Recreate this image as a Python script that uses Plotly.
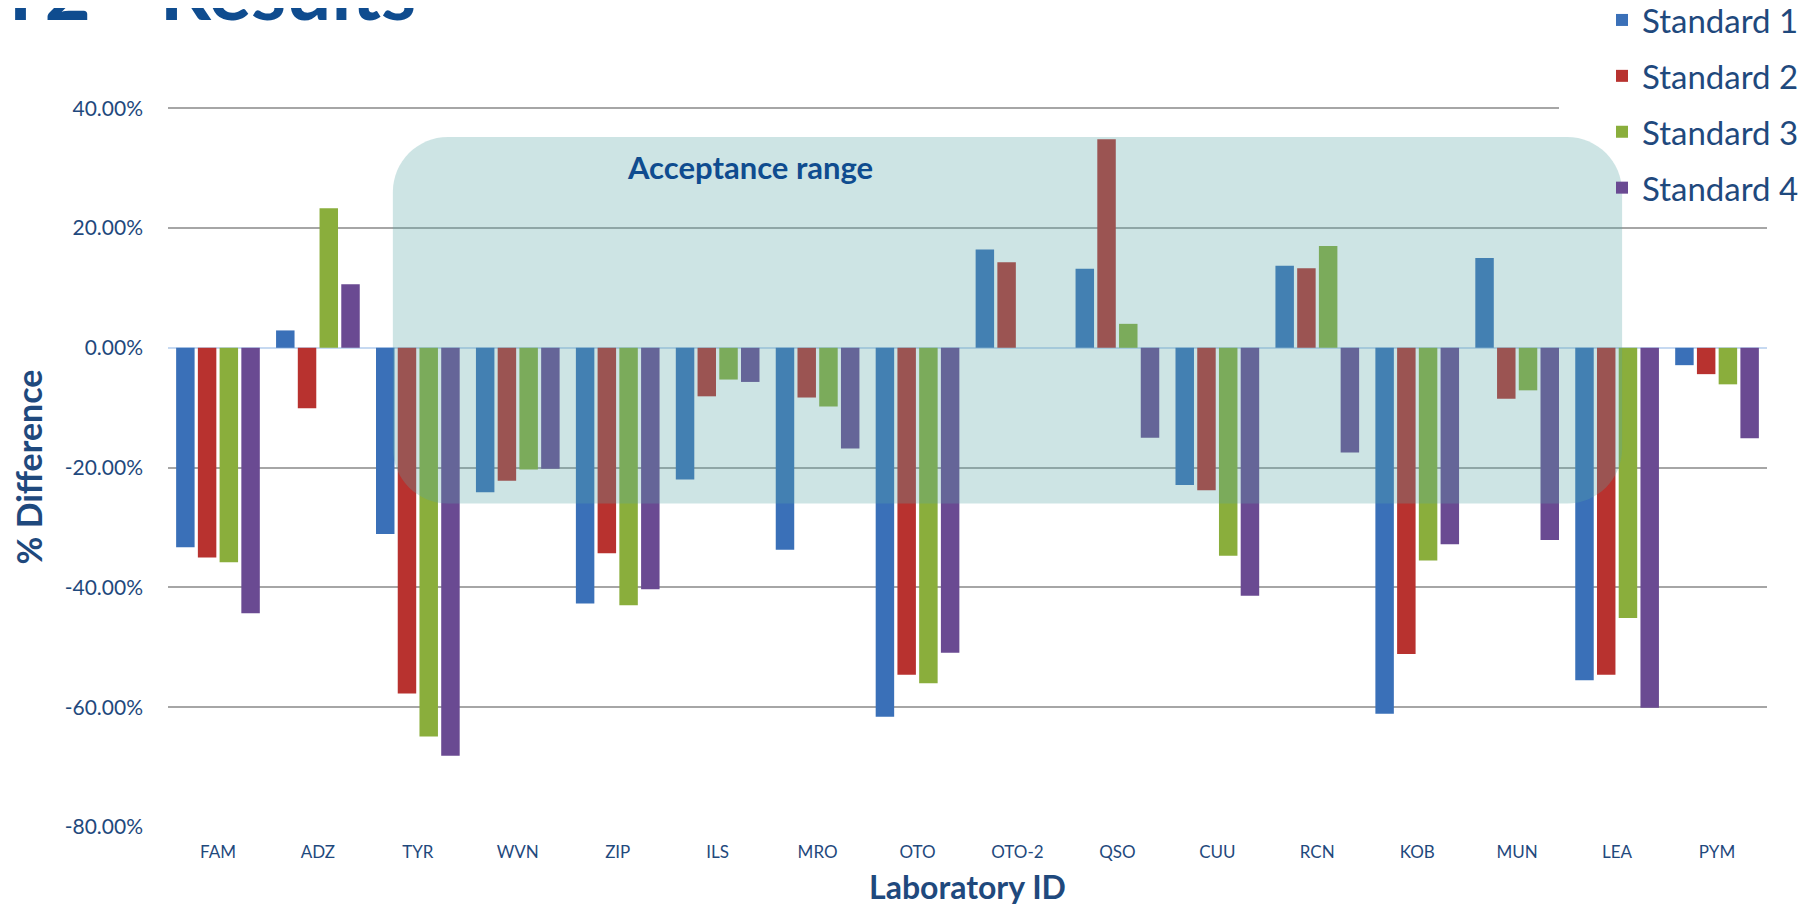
import plotly.graph_objects as go

# Laboratory IDs on the x axis
labs = ["FAM", "ADZ", "TYR", "WVN", "ZIP", "ILS", "MRO", "OTO",
        "OTO-2", "QSO", "CUU", "RCN", "KOB", "MUN", "LEA", "PYM"]

# % difference per standard (fractions)
standard_1 = [-0.333, 0.029, -0.311, -0.241, -0.427, -0.220, -0.337, -0.616,
              0.164, 0.132, -0.229, 0.137, -0.611, 0.150, -0.555, -0.029]
standard_2 = [-0.350, -0.101, -0.577, -0.222, -0.343, -0.081, -0.083, -0.546,
              0.143, 0.348, -0.238, 0.133, -0.511, -0.085, -0.546, -0.044]
standard_3 = [-0.358, 0.233, -0.649, -0.203, -0.430, -0.053, -0.098, -0.560,
              None, 0.040, -0.347, 0.170, -0.355, -0.071, -0.451, -0.061]
standard_4 = [-0.443, 0.106, -0.681, -0.202, -0.403, -0.057, -0.168, -0.509,
              None, -0.150, -0.414, -0.175, -0.328, -0.321, -0.601, -0.151]

series_names = ["Standard 1", "Standard 2", "Standard 3", "Standard 4"]
series_values = [standard_1, standard_2, standard_3, standard_4]
series_colors = ["#3A70B8", "#B8322F", "#8AAE3C", "#6A4A92"]

y_ticks = [0.4, 0.2, 0.0, -0.2, -0.4, -0.6, -0.8]
y_tick_text = [f"{v:.2%}" for v in y_ticks]

# acceptance band: y limits (fractions) and x limits (category positions)
ACCEPT_LOW, ACCEPT_HIGH = -0.260, 0.352
ACCEPT_X0, ACCEPT_X1 = 1.75, 14.05

TEXT_BLUE = "#1F497D"
TITLE_BLUE = "#0F4C8F"
FONT = "Lato"

# the page body adds 8px around the figure
W, H = 1797, 898
M_L, M_R, M_T, M_B = 160, 38, 99, 79
PLOT_W = W - M_L - M_R
PLOT_H = H - M_T - M_B
Y_RANGE = (-0.8, 0.402)

fig = go.Figure()
for i, (name, vals, col) in enumerate(zip(series_names, series_values, series_colors)):
    fig.add_trace(go.Bar(
        x=labs, y=vals, name=name, legendgroup=f"g{i}",
        marker=dict(color=col, line=dict(width=0)),
    ))

# rounded rectangle for the acceptance range (x in paper units, y in data units)
n = len(labs)
x0 = (ACCEPT_X0 + 0.5) / n
x1 = (ACCEPT_X1 + 0.5) / n
y0, y1 = ACCEPT_LOW, ACCEPT_HIGH
r_px = 55
rx = r_px / PLOT_W
ry = r_px / PLOT_H * (Y_RANGE[1] - Y_RANGE[0])
k = 0.5523
path = (
    f"M {x0 + rx},{y1} L {x1 - rx},{y1} "
    f"C {x1 - rx + k * rx},{y1} {x1},{y1 - ry + k * ry} {x1},{y1 - ry} "
    f"L {x1},{y0 + ry} "
    f"C {x1},{y0 + ry - k * ry} {x1 - rx + k * rx},{y0} {x1 - rx},{y0} "
    f"L {x0 + rx},{y0} "
    f"C {x0 + rx - k * rx},{y0} {x0},{y0 + ry - k * ry} {x0},{y0 + ry} "
    f"L {x0},{y1 - ry} "
    f"C {x0},{y1 - ry + k * ry} {x0 + rx - k * rx},{y1} {x0 + rx},{y1} Z"
)
fig.add_shape(type="path", path=path, xref="paper", yref="y",
              fillcolor="rgba(88,165,165,0.30)", line=dict(width=0), layer="above")

# legend area hides the end of the top gridline
fig.add_shape(type="rect", xref="paper", yref="y",
              x0=(1551 - M_L) / PLOT_W, x1=1.0, y0=0.385, y1=0.415,
              fillcolor="white", line=dict(width=0), layer="above")

fig.add_annotation(text="Acceptance range", xref="paper", yref="y",
                   x=(750 - 8 - M_L) / PLOT_W, y=0.302, showarrow=False,
                   font=dict(family=FONT, size=31, color=TITLE_BLUE, weight=700))

# slide title, mostly cut off at the top of the page
fig.add_annotation(text="PT2 - Results", xref="paper", yref="paper",
                   x=(-63 - M_L) / PLOT_W, y=1 + (M_T - 31) / PLOT_H,
                   xanchor="left", yanchor="bottom", showarrow=False,
                   font=dict(family=FONT, size=80, color=TITLE_BLUE, weight=700))

fig.update_layout(
    width=W, height=H,
    margin=dict(l=M_L, r=M_R, t=M_T, b=M_B, autoexpand=False),
    paper_bgcolor="white", plot_bgcolor="white",
    font=dict(family=FONT, color=TEXT_BLUE),
    barmode="group", bargap=0.13, bargroupgap=0.15,
    showlegend=True,
    legend=dict(
        xref="container", yref="paper",
        x=1594 / W, xanchor="left", y=1 + (M_T + 16) / PLOT_H, yanchor="top",
        font=dict(family=FONT, size=33, color=TEXT_BLUE),
        tracegroupgap=10, bgcolor="rgba(0,0,0,0)", itemclick=False,
    ),
    xaxis=dict(
        type="category", showgrid=False, zeroline=False, showline=False,
        tickfont=dict(family=FONT, size=17, color=TEXT_BLUE),
        ticks="", ticklabelstandoff=13,
        title=dict(text="Laboratory ID", standoff=22,
                   font=dict(family=FONT, size=32, color=TEXT_BLUE, weight=700)),
    ),
    yaxis=dict(
        range=list(Y_RANGE), tickvals=y_ticks, ticktext=y_tick_text,
        showgrid=True, gridcolor="#A6A6A6", gridwidth=1.5,
        zeroline=True, zerolinecolor="#C6D9F1", zerolinewidth=1.5,
        showline=False, ticks="", ticklabelstandoff=24,
        tickfont=dict(family=FONT, size=21, color=TEXT_BLUE),
        title=dict(text="% Difference", standoff=24,
                   font=dict(family=FONT, size=34, color=TEXT_BLUE, weight=700)),
    ),
)

fig.write_html("out.html")
